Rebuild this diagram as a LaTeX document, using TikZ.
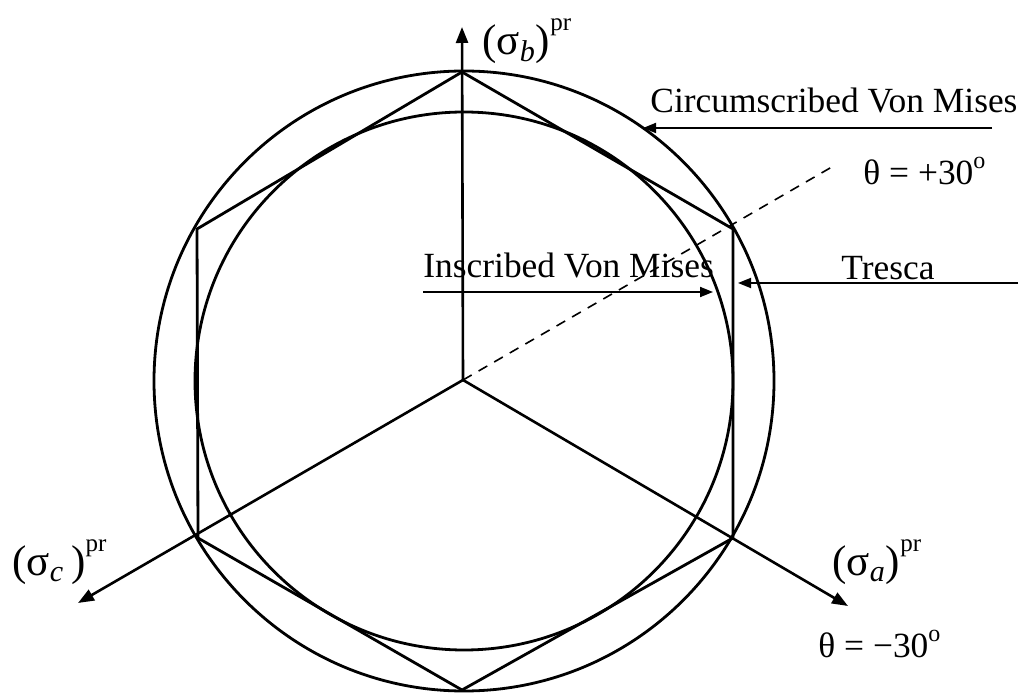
\documentclass[tikz,border=0pt]{standalone}
\usepackage{fontspec}
\setmainfont{Liberation Serif}
\usetikzlibrary{arrows.meta}
\newcommand\prsup{\raisebox{12pt}{\fontsize{12.5}{13}\selectfont pr}}
\newcommand\degsup{\raisebox{8pt}{\fontsize{12}{13}\selectfont o}}
\tikzset{
  shapeline/.style={line width=1.4pt},
  axisarrow/.style={line width=1.3pt,-{Triangle[length=8pt,width=6pt]}},
  labelarrow/.style={line width=0.9pt,-{Triangle[length=6.5pt,width=5pt]}},
  lbl/.style={inner sep=0pt,anchor=base west,font=\fontsize{17.7}{20}\selectfont},
  axlbl/.style={inner sep=0pt,anchor=base west,font=\fontsize{21.5}{24}\selectfont},
  dashline/.style={line width=0.8pt,dash pattern=on 5pt off 4pt}
}
\begin{document}
\begin{tikzpicture}[x=0.5pt,y=-0.5pt]
\useasboundingbox (0,0) rectangle (1027,694);
% centres
\coordinate (O) at (463,380);
\coordinate (C) at (464,381);
% hexagon vertices
\coordinate (T) at (462,72);
\coordinate (UR) at (733,229);
\coordinate (LR) at (733,538);
\coordinate (B) at (462,690);
\coordinate (LL) at (198,538);
\coordinate (UL) at (197,229);
% axis ends
\coordinate (Ab) at (462,27);
\coordinate (Aa) at (848,606);
\coordinate (Ac) at (78,603);
\coordinate (Dp) at (837,164);
% circles and hexagon
\draw[shapeline] (C) circle [radius=155pt];
\draw[shapeline] (C) circle [radius=134.5pt];
\draw[shapeline] (T) -- (UR) -- (LR) -- (B) -- (LL) -- (UL) -- cycle;
% axes
\draw[axisarrow] (O) -- (Ab);
\draw[axisarrow] (O) -- (Aa);
\draw[axisarrow] (O) -- (Ac);
\draw[dashline] (O) -- (Dp);
% axis labels
\node[axlbl] (lb) at (482,55) {(σ\textsubscript{\textit{b}})\prsup};
\node[axlbl] (la) at (832,575) {(σ\textsubscript{\textit{a}})\prsup};
\node[axlbl] (lc) at (12,575) {(σ\textsubscript{\textit{c}}\,)\prsup};
\node[lbl] (tp) at (863,185) {θ = +30\degsup};
\node[lbl] (tm) at (818,657) {θ = −30\degsup};
% annotation labels and arrows
\node[lbl] (cvm) at (650,113) {Circumscribed Von Mises};
\node[lbl] (ivm) at (423,278) {Inscribed Von Mises};
\node[lbl] (tre) at (841,280) {Tresca};
\coordinate (cs) at (992,128);
\coordinate (ce) at (643,128);
\coordinate (is) at (423,292);
\coordinate (ie) at (713,292);
\coordinate (ts) at (1018,283);
\coordinate (te) at (738,283);
\draw[labelarrow] (cs) -- (ce);
\draw[labelarrow] (is) -- (ie);
\draw[labelarrow] (ts) -- (te);
\end{tikzpicture}
\end{document}
